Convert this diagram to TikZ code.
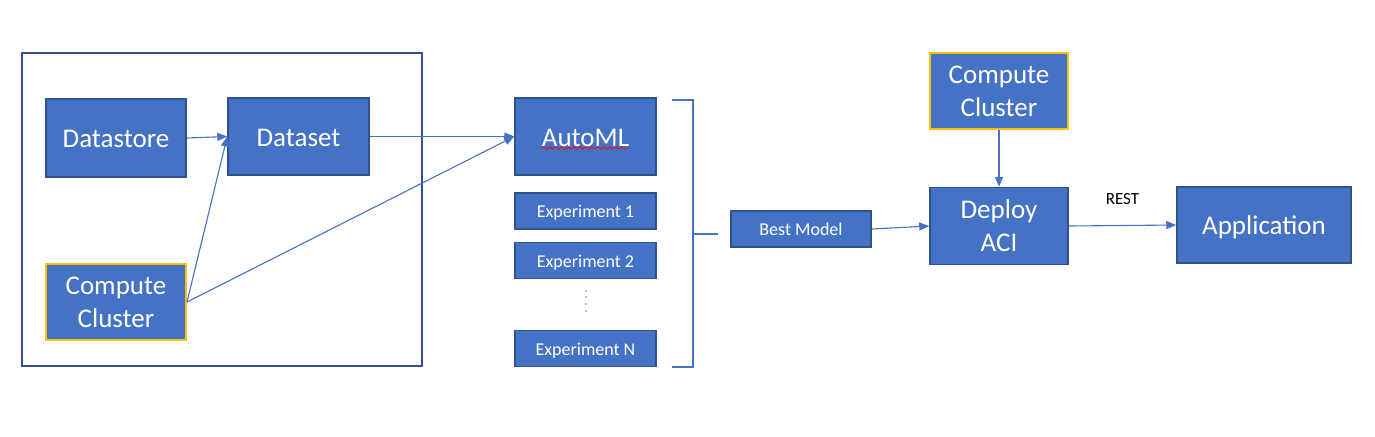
\documentclass[tikz,border=0pt]{standalone}
\usepackage{fontspec}
\setmainfont{Carlito}
\usetikzlibrary{arrows.meta,decorations.pathmorphing}
\definecolor{boxblue}{HTML}{4472C4}
\definecolor{boxedge}{HTML}{2F528F}
\definecolor{clusteredge}{HTML}{FFC000}

\begin{document}
\begin{tikzpicture}[x=0.5pt,y=0.5pt]
\tikzset{
  blk/.style={draw=boxedge,line width=0.75pt,fill=boxblue,text=white,inner sep=0pt,align=center},
  bigblk/.style={blk,font=\fontsize{13.5}{16.5}\selectfont},
  oneline/.style={text height=9.75pt,text depth=0pt},
  smallblk/.style={blk,font=\fontsize{9}{11}\selectfont,minimum width=70.5pt,minimum height=18pt,text height=6.6pt,text depth=0pt},
  clu/.style={bigblk,draw=clusteredge,line width=1pt},
  conn/.style={draw=boxblue,line width=0.55pt,-{Triangle[length=5pt,width=4pt]}}
}
\useasboundingbox (0,0) rectangle (1375,-436);
\draw [boxedge,line width=1pt] (22,-53) rectangle (422,-366);
\node [bigblk,oneline,minimum width=70pt,minimum height=39pt] (store) at (116,-138) {Datastore};
\node [bigblk,oneline,minimum width=70.5pt,minimum height=38.5pt] (dset) at (298.5,-136.5) {Dataset};
\node [clu,minimum width=70pt,minimum height=38pt] (cluA) at (116,-302) {Compute\\Cluster};
\node [bigblk,oneline,minimum width=70.5pt,minimum height=38.5pt] (automl) at (585.5,-136.5) {AutoML};
\draw [red,line width=0.4pt,decorate,decoration={snake,amplitude=0.6pt,segment length=3pt}] (542,-148) -- (629,-148);
\node [smallblk] (exp1) at (585.5,-211) {Experiment 1};
\node [smallblk] (exp2) at (585.5,-260.5) {Experiment 2};
\node [smallblk] (expN) at (585.5,-348.5) {Experiment N};
\foreach \y in {291,297,304,311} \fill [black] (586,-\y) circle (0.6);
\draw [boxblue,line width=0.55pt] (672,-100) -- (693,-100) -- (693,-367) -- (672,-367);
\draw [boxblue,line width=0.55pt] (693,-234) -- (718,-234);
\node [smallblk,minimum width=70pt,text height=6.2pt] (best) at (801,-229) {Best Model};
\node [clu,minimum width=69pt,minimum height=38pt] (cluB) at (999,-91) {Compute\\Cluster};
\node [bigblk,minimum width=69pt,minimum height=38.5pt] (deploy) at (999,-226) {Deploy\\ACI};
\node [bigblk,oneline,minimum width=87pt,minimum height=38pt] (app) at (1264,-225) {Application};
\draw [conn] (store.east) -- (dset.west);
\draw [conn] (cluA.east) -- (dset.west);
\draw [conn] (dset.east) -- (automl.west);
\draw [conn] (cluA.east) -- (automl.west);
\draw [conn] (best.east) -- (deploy.west);
\draw [conn] (cluB.south) -- (deploy.north);
\draw [conn] (deploy.east) -- node [above=10pt,inner sep=0pt,text height=6pt,text depth=0pt,font=\fontsize{8.5}{10}\selectfont,text=black] (rest) {REST} (app.west);
\end{tikzpicture}
\end{document}
